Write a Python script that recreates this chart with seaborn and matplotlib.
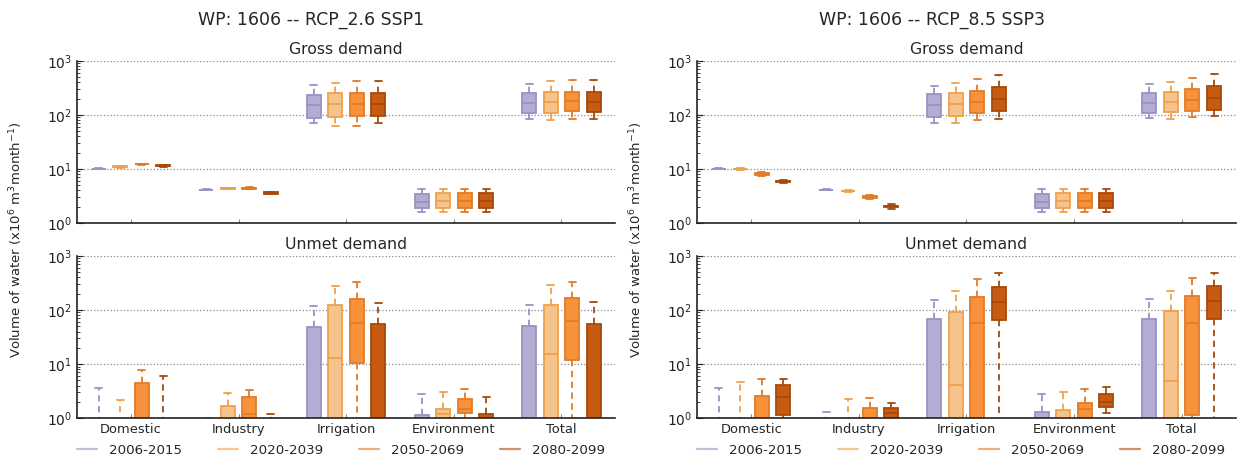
import pandas as pd
import seaborn as sns
import matplotlib.pyplot as plt
from matplotlib.lines import Line2D

categories = ["Domestic", "Industry", "Irrigation", "Environment", "Total"]
periods = ["2006-2015", "2020-2039", "2050-2069", "2080-2099"]

# each box: [min, q1, median, q3, max]; L = below the visible range
L = 0.1

gross_26 = [
    [[9.8, 9.9, 10.0, 10.1, 10.2], [10.5, 10.8, 11.0, 11.3, 11.5], [12.0, 12.2, 12.3, 12.4, 12.6], [11.0, 11.3, 11.5, 11.7, 12.0]],
    [[4.0, 4.05, 4.1, 4.15, 4.2], [4.2, 4.3, 4.35, 4.4, 4.5], [4.2, 4.3, 4.4, 4.5, 4.6], [3.4, 3.5, 3.6, 3.7, 3.8]],
    [[71, 89, 149, 232, 360], [63, 90, 159, 252, 395], [63, 95, 160, 250, 414], [70, 95, 160, 252, 414]],
    [[1.6, 1.9, 2.4, 3.5, 4.3], [1.6, 1.9, 2.5, 3.6, 4.3], [1.6, 1.9, 2.5, 3.6, 4.3], [1.6, 1.9, 2.5, 3.6, 4.3]],
    [[85, 106, 167, 250, 380], [82, 110, 176, 267, 414], [83, 117, 184, 263, 438], [85, 114, 176, 263, 438]],
]
unmet_26 = [
    [[L, L, L, 0.5, 3.55], [L, L, L, 0.5, 2.2], [L, L, 0.5, 4.4, 7.8], [L, L, L, 0.5, 6.1]],
    [[L, L, L, 0.5, 1.02], [L, L, 0.5, 1.7, 2.9], [L, 0.5, 1.2, 2.5, 3.3], [L, L, L, 0.5, 1.17]],
    [[L, L, 0.5, 49, 119], [L, 0.5, 12.9, 124, 278], [L, 10.6, 57, 158, 326], [L, L, 0.5, 54, 135]],
    [[L, L, 0.5, 1.14, 2.8], [L, 0.5, 1.2, 1.49, 3.0], [L, 1.25, 1.5, 2.3, 3.4], [L, L, 0.5, 1.2, 2.5]],
    [[L, L, 0.5, 50.6, 124], [L, 0.5, 15.1, 125, 294], [L, 12, 62, 167, 335], [L, L, 0.5, 55, 140]],
]
gross_85 = [
    [[9.8, 9.9, 10.0, 10.1, 10.2], [9.7, 9.85, 10.0, 10.1, 10.2], [7.5, 7.8, 8.2, 8.4, 8.7], [5.5, 5.7, 5.9, 6.1, 6.3]],
    [[4.0, 4.05, 4.1, 4.15, 4.2], [3.75, 3.85, 3.9, 3.95, 4.0], [2.75, 2.9, 3.05, 3.2, 3.3], [1.85, 1.95, 2.04, 2.1, 2.2]],
    [[71, 93, 149, 242, 349], [71, 96, 158, 250, 391], [80, 106, 172, 282, 470], [85, 119, 198, 326, 543]],
    [[1.6, 1.9, 2.4, 3.5, 4.3], [1.6, 1.9, 2.5, 3.6, 4.3], [1.6, 1.9, 2.5, 3.6, 4.3], [1.6, 1.9, 2.5, 3.6, 4.3]],
    [[87, 110, 165, 259, 365], [85, 114, 174, 267, 404], [91, 118, 186, 299, 484], [96, 124, 209, 339, 558]],
]
unmet_85 = [
    [[L, L, L, 0.5, 3.6], [L, L, L, 0.5, 4.7], [L, L, 0.5, 2.6, 5.2], [L, 1.12, 2.5, 4.1, 5.2]],
    [[L, L, L, 0.5, 1.31], [L, L, L, 0.5, 2.28], [L, L, 0.5, 1.51, 2.38], [L, 0.9, 1.22, 1.51, 1.92]],
    [[L, L, 0.5, 67, 155], [L, 0.5, 4.1, 92, 225], [L, 0.5, 57, 177, 380], [L, 65, 143, 270, 484]],
    [[L, L, 0.5, 1.29, 2.78], [L, L, 0.5, 1.42, 3.07], [L, 0.5, 1.47, 1.87, 3.45], [1.24, 1.58, 1.98, 2.78, 3.8]],
    [[L, L, 0.5, 69, 158], [L, 0.5, 4.8, 94, 225], [L, 1.15, 58, 182, 386], [L, 69, 147, 282, 484]],
]

fill_colors = ["#b3acd3", "#f5c48d", "#f7923a", "#c75b12"]
edge_colors = ["#9a92c4", "#f0a04b", "#e27b28", "#a64a0c"]

sns.set_style("white")
plt.rcParams["font.family"] = ["DejaVu Sans"]


def to_frame(values):
    rows = []
    for cat, boxes in zip(categories, values):
        for per, stats in zip(periods, boxes):
            for v in stats:
                rows.append((cat, per, v))
    return pd.DataFrame(rows, columns=["category", "period", "value"])


def draw_panel(ax, values, title, bottom):
    df = to_frame(values)
    sns.boxplot(data=df, x="category", y="value", hue="period", order=categories,
                hue_order=periods, palette=dict(zip(periods, fill_colors)),
                saturation=1, width=0.8, gap=0.35, whis=(0, 100), log_scale=True,
                linewidth=1.3, showfliers=False, legend=False, ax=ax)
    for cont, ec in zip(ax.containers, edge_colors):
        for b in cont.boxes:
            b.set_edgecolor(ec)
        for m in cont.medians:
            m.set_color(ec)
        for w in cont.whiskers:
            w.set_color(ec)
            w.set_linestyle((0, (3.5, 2.5)))
        for c in cont.caps:
            c.set_color(ec)
    ax.set_ylim(1, 1000)
    ax.set_xlim(-0.5, 4.5)
    ax.set_yticks([1, 10, 100, 1000])
    ax.yaxis.grid(True, which="major", linestyle=":", color="#888888", linewidth=0.9)
    ax.set_axisbelow(True)
    for s in ["top", "right"]:
        ax.spines[s].set_visible(False)
    for s in ["left", "bottom"]:
        ax.spines[s].set_color("#222222")
        ax.spines[s].set_linewidth(1.2)
    ax.tick_params(axis="y", which="both", direction="in", left=True, labelsize=10, colors="#222222")
    ax.tick_params(axis="y", which="major", length=4)
    ax.tick_params(axis="y", which="minor", length=2)
    ax.tick_params(axis="x", direction="in", bottom=True, length=3, color="#888888", labelsize=9.4)
    ax.set_xlabel("")
    ax.set_ylabel("")
    ax.set_title(title, fontsize=11.3, pad=5)
    if not bottom:
        ax.set_xticklabels([])


fig = plt.figure(figsize=(12.43, 4.57), dpi=100)

columns = [
    (0.062, "WP: 1606 -- RCP_2.6 SSP1", gross_26, unmet_26, 0.25, 12),
    (0.561, "WP: 1606 -- RCP_8.5 SSP3", gross_85, unmet_85, 0.75, 632),
]
for left, head, gross, unmet, cx, lx in columns:
    ax_top = fig.add_axes([left, 0.512, 0.433, 0.355])
    ax_bot = fig.add_axes([left, 0.085, 0.433, 0.355])
    draw_panel(ax_top, gross, "Gross demand", False)
    draw_panel(ax_bot, unmet, "Unmet demand", True)
    fig.text(cx, 1 - 20 / 457, head, ha="center", va="center", fontsize=12.5)
    fig.text((lx + 4) / 1243, 0.475, r"Volume of water (x10$^6$ m$^3$month$^{-1}$)",
             rotation=90, ha="center", va="center", fontsize=9.5)
    handles = [Line2D([], [], color=ec, alpha=0.6, lw=1.6) for ec in edge_colors]
    ax_bot.legend(handles, periods, loc="center", bbox_to_anchor=(0.49, -0.2), ncol=4,
                  frameon=False, fontsize=9.6, handlelength=1.5, handletextpad=0.9,
                  columnspacing=2.7)

fig.savefig("out.png", dpi=100)
